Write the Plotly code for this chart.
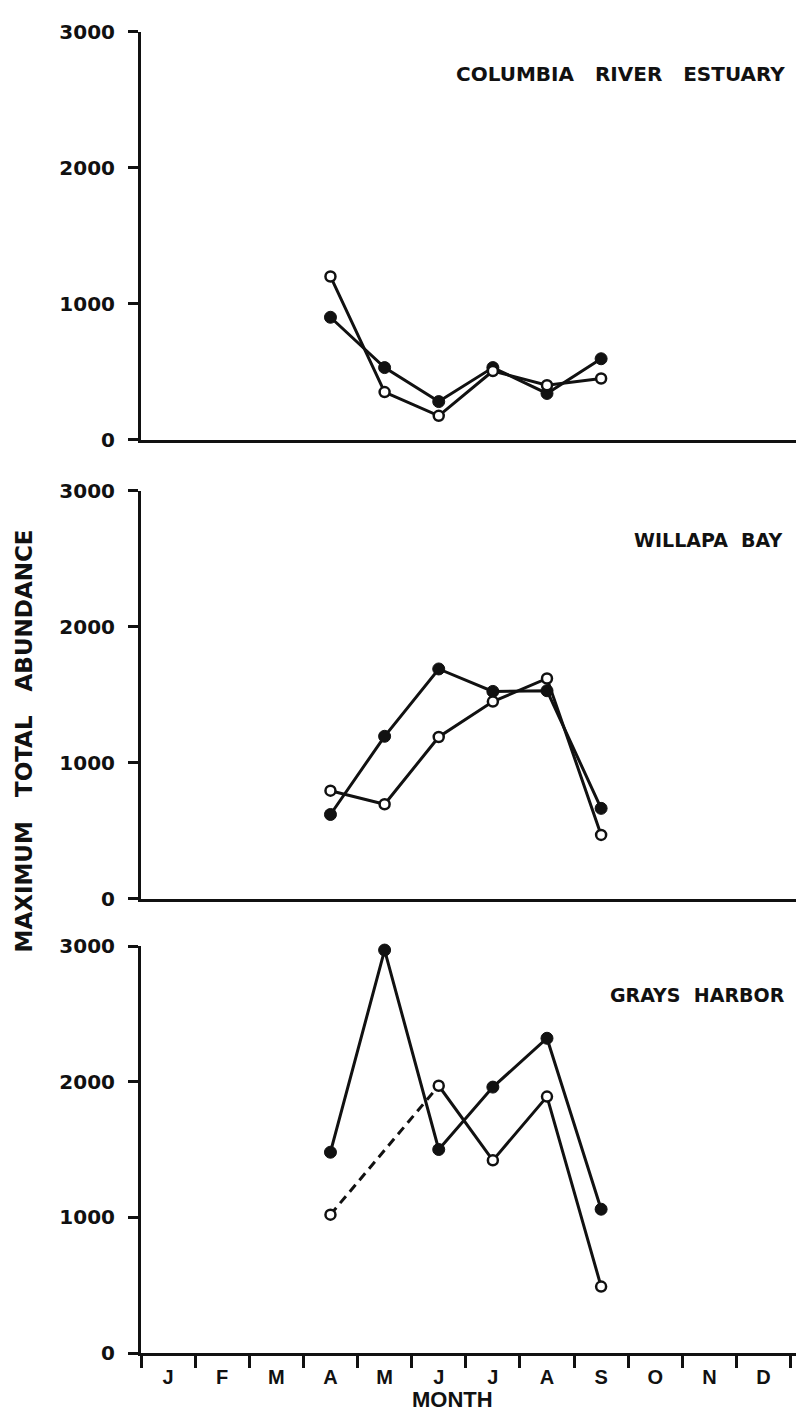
import plotly.graph_objects as go

# ---------------- data ----------------
months = ["J", "F", "M", "A", "M", "J", "J", "A", "S", "O", "N", "D"]
sample_month_index = [3, 4, 5, 6, 7, 8]          # A M J J A S

columbia_filled = [900, 530, 280, 530, 340, 595]
columbia_open = [1200, 350, 175, 505, 400, 450]

willapa_filled = [620, 1195, 1690, 1525, 1530, 665]
willapa_open = [795, 695, 1190, 1450, 1620, 470]

grays_filled = [1480, 2970, 1500, 1960, 2320, 1060]
grays_open = [1020, None, 1970, 1420, 1890, 490]

panel_titles = ["COLUMBIA   RIVER   ESTUARY", "WILLAPA  BAY", "GRAYS  HARBOR"]
y_tick_values = [0, 1000, 2000, 3000]
y_title = "MAXIMUM   TOTAL   ABUNDANCE"
x_title = "MONTH"

# ---------------- layout helpers ----------------
W, H = 796, 1425
def py(pix):
    return 1 - pix / H
def px(pix):
    return pix / W

x_mid = [i + 0.5 for i in sample_month_index]
panels = [
    (columbia_filled, columbia_open),
    (willapa_filled, willapa_open),
    (grays_filled, grays_open),
]
# pixel rows (3000 tick, 0 tick)
rows = [(20, 435), (487, 902), (950, 1364)]
title_y = [63, 537, 1000]
title_right = [787, 784, 787]
title_size = [20, 19, 19]

BLACK = "#111111"
fig = go.Figure()

for k, (filled, opened) in enumerate(panels):
    xa = "x" if k == 0 else f"x{k+1}"
    ya = "y" if k == 0 else f"y{k+1}"
    # dashed connection across a missing open value
    for i in range(len(opened) - 2):
        if opened[i] is not None and opened[i + 1] is None and opened[i + 2] is not None:
            fig.add_trace(go.Scatter(
                x=[x_mid[i], x_mid[i + 2]], y=[opened[i], opened[i + 2]],
                mode="lines", line=dict(color=BLACK, width=3, dash="9px,6px"),
                xaxis=xa, yaxis=ya, showlegend=False, hoverinfo="skip", cliponaxis=False))
    fig.add_trace(go.Scatter(
        x=x_mid, y=filled, mode="lines+markers",
        line=dict(color=BLACK, width=3),
        marker=dict(symbol="circle", size=12, color=BLACK, line=dict(color=BLACK, width=1)),
        xaxis=xa, yaxis=ya, showlegend=False, cliponaxis=False))
    fig.add_trace(go.Scatter(
        x=x_mid, y=opened, mode="lines+markers", connectgaps=False,
        line=dict(color=BLACK, width=3),
        marker=dict(symbol="circle", size=10, color="white", line=dict(color=BLACK, width=2.5)),
        xaxis=xa, yaxis=ya, showlegend=False, cliponaxis=False))

layout = dict(
    width=W, height=H,
    margin=dict(l=0, r=0, t=0, b=0),
    paper_bgcolor="white", plot_bgcolor="white",
    showlegend=False,
)

tick_font = dict(family="DejaVu Sans", size=20, color=BLACK, weight="bold")

for k, (top, bot) in enumerate(rows):
    xkey = "xaxis" if k == 0 else f"xaxis{k+1}"
    ykey = "yaxis" if k == 0 else f"yaxis{k+1}"
    yname = "y" if k == 0 else f"y{k+1}"
    xname = "x" if k == 0 else f"x{k+1}"
    xa = dict(
        domain=[px(141), 1.0], range=[0, 12.1], anchor=yname,
        showline=True, linecolor=BLACK, linewidth=3,
        showgrid=False, zeroline=False, fixedrange=True,
    )
    if k == 2:
        xa.update(
            tickmode="array", tickvals=[i + 0.5 for i in range(12)], ticktext=months,
            ticks="", tickfont=dict(family="Liberation Sans", size=20, color=BLACK, weight="bold"),
            ticklabelstandoff=4,
            minor=dict(tickmode="linear", tick0=0, dtick=1, ticks="outside",
                       ticklen=12, tickwidth=3, tickcolor=BLACK, showgrid=False),
        )
    else:
        xa.update(showticklabels=False, ticks="")
    layout[xkey] = xa
    layout[ykey] = dict(
        domain=[py(bot), py(top)], range=[0, 3000], anchor=xname,
        tickmode="array", tickvals=y_tick_values,
        ticks="outside", ticklen=10, tickwidth=3, tickcolor=BLACK,
        showline=True, linecolor=BLACK, linewidth=3,
        showgrid=False, zeroline=False, fixedrange=True,
        tickfont=tick_font, ticklabelstandoff=9,
    )

annotations = []
for k, t in enumerate(panel_titles):
    annotations.append(dict(
        text=t, xref="paper", yref="paper", x=px(title_right[k]), y=py(title_y[k]),
        xanchor="right", yanchor="middle", showarrow=False,
        font=dict(family="DejaVu Sans", size=title_size[k], color=BLACK, weight="bold")))
annotations.append(dict(
    text=y_title, xref="paper", yref="paper", x=px(24), y=py(742),
    xanchor="center", yanchor="middle", textangle=-90, showarrow=False,
    font=dict(family="DejaVu Sans", size=23, color=BLACK, weight="bold")))
annotations.append(dict(
    text=x_title, xref="paper", yref="paper", x=px(452), y=0,
    xanchor="center", yanchor="bottom", showarrow=False, borderpad=0,
    font=dict(family="Liberation Sans", size=22, color=BLACK, weight="bold")))
layout["annotations"] = annotations

fig.update_layout(**layout)
fig.write_html("out.html")
